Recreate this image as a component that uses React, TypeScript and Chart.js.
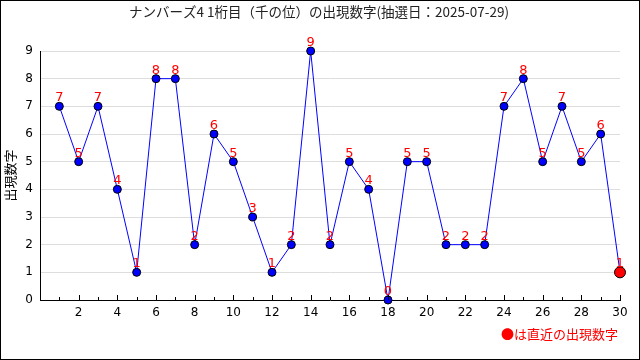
import React, { useEffect, useRef } from 'react';
import { Chart, registerables } from 'chart.js';

Chart.register(...registerables);

const draws = [1, 2, 3, 4, 5, 6, 7, 8, 9, 10, 11, 12, 13, 14, 15, 16, 17, 18, 19, 20, 21, 22, 23, 24, 25, 26, 27, 28, 29, 30];
const digits = [7, 5, 7, 4, 1, 8, 8, 2, 6, 5, 3, 1, 2, 9, 2, 5, 4, 0, 5, 5, 2, 2, 2, 7, 8, 5, 7, 5, 6, 1];
const titleText = 'ナンバーズ4 1桁目（千の位）の出現数字(抽選日：2025-07-29)';
const yAxisTitle = '出現数字';
const noteText = '●は直近の出現数字';

const JP = '"Noto Sans CJK JP", "DejaVu Sans", sans-serif';
const NUM = '"DejaVu Sans", sans-serif';

const decor = {
  id: 'decor',
  afterDraw(chart: any) {
    const ctx = chart.ctx;
    const xs = chart.scales.x;
    const area = chart.chartArea;
    ctx.save();
    // inner ticks on x axis
    ctx.strokeStyle = '#000';
    ctx.lineWidth = 1;
    for (let v = 1; v <= 30; v++) {
      const px = Math.round(xs.getPixelForValue(v)) + 0.5;
      const len = v % 2 === 0 ? 5 : 3;
      ctx.beginPath();
      ctx.moveTo(px, area.bottom);
      ctx.lineTo(px, area.bottom - len);
      ctx.stroke();
    }
    // data labels
    ctx.fillStyle = '#ff0000';
    ctx.font = '13px ' + NUM;
    ctx.textAlign = 'center';
    ctx.textBaseline = 'alphabetic';
    const meta = chart.getDatasetMeta(0);
    meta.data.forEach((pt: any, i: number) => {
      ctx.fillText(String(digits[i]), pt.x, pt.y - 5);
    });
    // title
    ctx.fillStyle = '#222';
    ctx.font = '13.5px ' + JP;
    ctx.textBaseline = 'middle';
    ctx.fillText(titleText, chart.width / 2 - 1, 12);
    // note
    ctx.fillStyle = '#ff0000';
    ctx.font = '13px ' + JP;
    ctx.textAlign = 'right';
    ctx.fillText(noteText, xs.getPixelForValue(30) - 2, 334);
    // frame
    ctx.strokeStyle = '#000';
    ctx.strokeRect(0.5, 0.5, chart.width - 1, chart.height - 1);
    ctx.restore();
  },
};

export default function App() {
  const ref = useRef<HTMLCanvasElement>(null);
  useEffect(() => {
    if (!ref.current) return;
    const n = digits.length;
    const chart = new Chart(ref.current, {
      type: 'line',
      data: {
        datasets: [
          {
            data: draws.map((d, i) => ({ x: d, y: digits[i] })),
            borderColor: '#0000ff',
            borderWidth: 1,
            tension: 0,
            pointBackgroundColor: digits.map((_, i) => (i === n - 1 ? '#ff0000' : '#0000ff')),
            pointBorderColor: '#000',
            pointBorderWidth: 1,
            pointRadius: digits.map((_, i) => (i === n - 1 ? 5.5 : 4)),
            clip: false as any,
          },
        ],
      },
      options: {
        animation: false,
        responsive: false,
        events: [],
        layout: { padding: { top: 51, right: 20, left: 0, bottom: 0 } },
        plugins: { legend: { display: false }, tooltip: { enabled: false } },
        scales: {
          x: {
            type: 'linear',
            min: 0,
            max: 30,
            afterFit: (s: any) => { s.height = 60; },
            grid: { display: false, drawTicks: false },
            border: { display: true, color: '#000', width: 1 },
            ticks: {
              stepSize: 1,
              autoSkip: false,
              maxRotation: 0,
              padding: 6,
              color: '#000',
              font: { family: NUM, size: 12 },
              callback: (v: any) => (v % 2 === 0 && v !== 0 ? String(v) : ''),
            },
          },
          y: {
            min: 0,
            max: 9,
            afterFit: (s: any) => { s.width = 40; },
            grid: { color: '#dddddd', drawTicks: false, lineWidth: (c: any) => (c.tick && c.tick.value === 0 ? 0 : 1) },
            border: { display: true, color: '#000', width: 1 },
            title: { display: true, text: yAxisTitle, color: '#000', font: { family: JP, size: 13 }, padding: { top: 2, bottom: 0 } },
            ticks: { stepSize: 1, padding: 7, color: '#000', font: { family: NUM, size: 12 } },
          },
        },
      },
      plugins: [decor],
    });
    return () => chart.destroy();
  }, []);
  return (
    <div style={{ position: 'absolute', left: 0, top: 0, width: 640, height: 360, background: '#fff' }}>
      <canvas ref={ref} width={640} height={360} style={{ display: 'block' }} />
    </div>
  );
}
